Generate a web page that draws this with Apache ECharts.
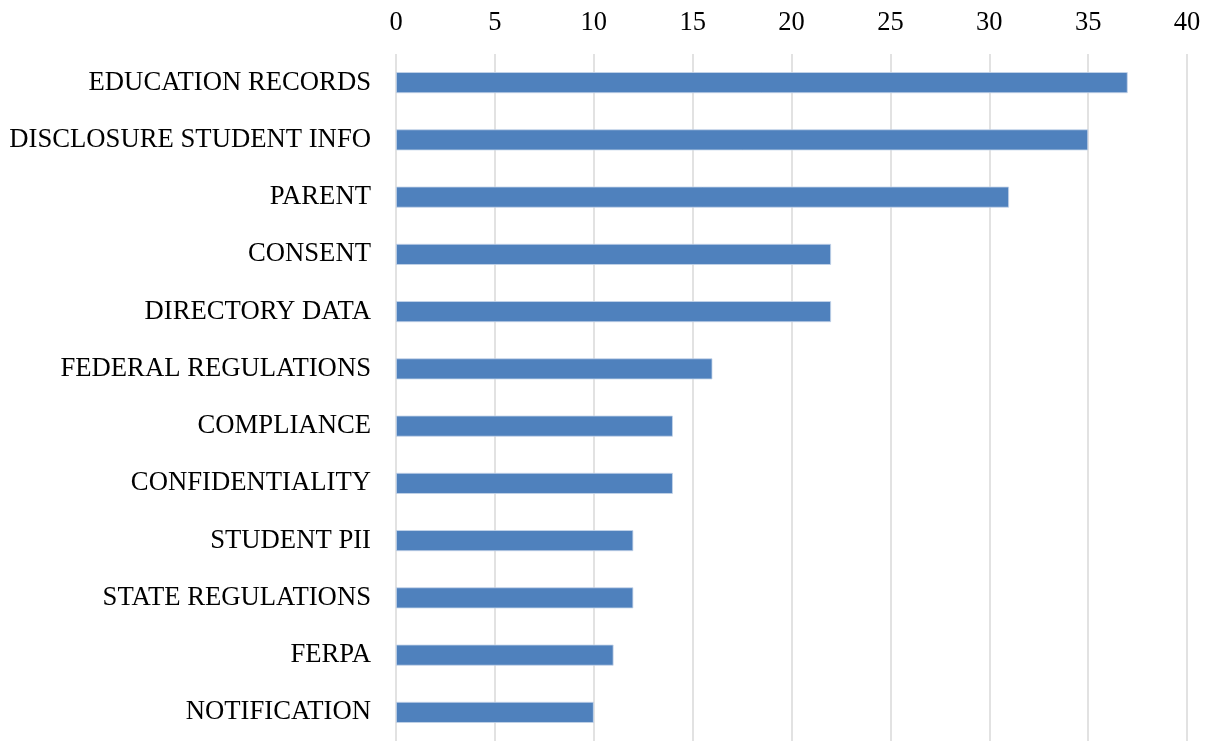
<!DOCTYPE html>
<html>
<head>
<meta charset="utf-8">
<script src="https://cdn.jsdelivr.net/npm/echarts@6/dist/echarts.min.js"></script>
<style>
  html, body { margin: 0; padding: 0; background: #fff; }
  #chart { width: 1207px; height: 741px; }
</style>
</head>
<body>
<div id="chart"></div>
<script>
// Keyword counts, listed from top to bottom
const categories = [
  'EDUCATION RECORDS', 'DISCLOSURE STUDENT INFO', 'PARENT', 'CONSENT',
  'DIRECTORY DATA', 'FEDERAL REGULATIONS', 'COMPLIANCE', 'CONFIDENTIALITY',
  'STUDENT PII', 'STATE REGULATIONS', 'FERPA', 'NOTIFICATION'
];
const counts = [37, 35, 31, 22, 22, 16, 14, 14, 12, 12, 11, 10];

const chart = echarts.init(document.getElementById('chart'));
chart.setOption({
  animation: false,
  grid: { left: 396, right: 20, top: 54, bottom: -6, containLabel: false },
  xAxis: {
    type: 'value',
    position: 'top',
    min: 0,
    max: 40,
    interval: 5,
    axisLine: { show: false },
    axisTick: { show: false },
    axisLabel: {
      margin: 17,
      fontFamily: 'Liberation Serif',
      fontSize: 26.5,
      color: '#000'
    },
    splitLine: { show: true, lineStyle: { color: '#d9d9d9', width: 1.5 } }
  },
  yAxis: {
    type: 'category',
    inverse: true,
    data: categories,
    axisLine: { show: false },
    axisTick: { show: false },
    axisLabel: {
      margin: 25,
      padding: [4, 0, 0, 0],
      fontFamily: 'Liberation Serif',
      fontSize: 26.7,
      color: '#000'
    }
  },
  series: [{
    type: 'bar',
    data: counts,
    barWidth: 21,
    itemStyle: { color: '#4f81bd', borderColor: '#c6d5ea', borderWidth: 0.8 }
  }]
});
</script>
</body>
</html>
